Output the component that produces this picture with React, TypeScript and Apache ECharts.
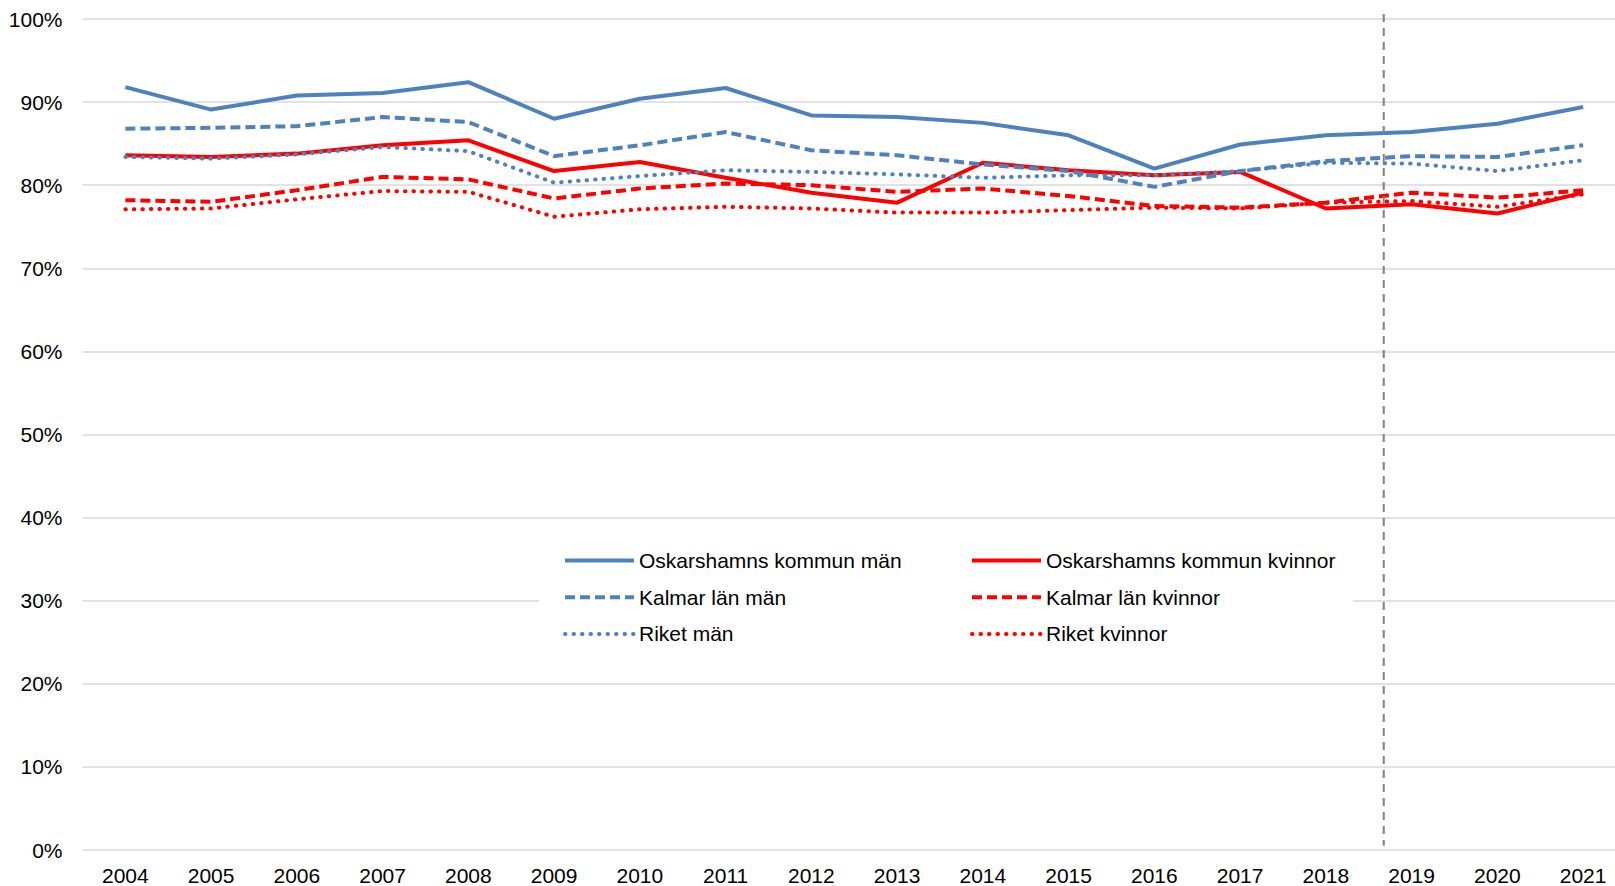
import React, { useEffect, useRef } from "react";
import * as echarts from "echarts";

const years = ["2004","2005","2006","2007","2008","2009","2010","2011","2012","2013","2014","2015","2016","2017","2018","2019","2020","2021"];
const oskMan = [91.8, 89.1, 90.8, 91.1, 92.4, 88.0, 90.4, 91.7, 88.4, 88.2, 87.5, 86.0, 82.0, 84.9, 86.0, 86.4, 87.4, 89.4];
const oskKv = [83.6, 83.4, 83.8, 84.8, 85.4, 81.7, 82.8, 80.9, 79.1, 77.9, 82.7, 81.8, 81.2, 81.6, 77.2, 77.7, 76.6, 79.1];
const kalMan = [86.8, 86.9, 87.1, 88.2, 87.6, 83.5, 84.8, 86.4, 84.2, 83.6, 82.5, 81.7, 79.8, 81.7, 82.9, 83.5, 83.4, 84.8];
const kalKv = [78.2, 78.0, 79.4, 81.0, 80.7, 78.4, 79.6, 80.2, 80.0, 79.2, 79.6, 78.7, 77.5, 77.3, 77.9, 79.1, 78.5, 79.4];
const riketMan = [83.4, 83.2, 83.7, 84.6, 84.1, 80.3, 81.1, 81.8, 81.6, 81.3, 80.9, 81.2, 81.2, 81.7, 82.7, 82.6, 81.7, 83.0];
const riketKv = [77.1, 77.2, 78.3, 79.3, 79.2, 76.2, 77.1, 77.4, 77.2, 76.7, 76.7, 77.0, 77.3, 77.2, 77.9, 78.1, 77.4, 78.9];
const yTicks = { min: 0, max: 100, interval: 10 };
// vertical dashed reference line, between 2018 and 2019 (category index scale)
const breakLine = [[14.675, 100.6], [14.675, 0.5]];

const names = {
  oskMan: "Oskarshamns kommun män",
  oskKv: "Oskarshamns kommun kvinnor",
  kalMan: "Kalmar län män",
  kalKv: "Kalmar län kvinnor",
  riketMan: "Riket män",
  riketKv: "Riket kvinnor",
};

const BLUE = "#4F81BD";
const RED = "#FF0000";
const FONT = "'Liberation Sans', Arial, sans-serif";
const LW = 4;
const DASH = [10, 5];
const DOT = [0.5, 8];

function lineSeries(name: string, data: number[], color: string, kind: "solid" | "dashed" | "dotted") {
  return {
    name,
    type: "line",
    data,
    symbol: "none",
    z: 2,
    lineStyle: {
      color,
      width: LW,
      type: kind === "solid" ? "solid" : kind === "dashed" ? DASH : DOT,
      cap: kind === "dotted" ? "round" : "butt",
    },
    itemStyle: { color },
  };
}

export default function App() {
  const ref = useRef<HTMLDivElement>(null);
  useEffect(() => {
    if (!ref.current) return;
    document.documentElement.style.overflow = "hidden";
    const chart = echarts.init(ref.current, undefined, { renderer: "svg" });
    const legendCommon = {
      orient: "vertical",
      top: 550,
      padding: 0,
      itemWidth: 69,
      itemHeight: 21,
      itemGap: 15.7,
      selectedMode: false,
      itemStyle: { opacity: 0 },
      lineStyle: { width: LW },
      textStyle: { fontSize: 21, color: "#000", fontFamily: FONT, lineHeight: 21 },
    };
    chart.setOption({
      animation: false,
      backgroundColor: "#fff",
      textStyle: { fontFamily: FONT },
      grid: { left: 82.5, right: 0, top: 19, bottom: 34.3, containLabel: false },
      legend: [
        { ...legendCommon, left: 563, data: [names.oskMan, names.kalMan, names.riketMan] },
        { ...legendCommon, left: 970, data: [names.oskKv, names.kalKv, names.riketKv] },
      ],
      graphic: [
        { type: "rect", z: 1, shape: { x: 539, y: 540, width: 814, height: 115 }, style: { fill: "#fff" } },
      ],
      xAxis: [
        {
          type: "category",
          data: years,
          boundaryGap: true,
          axisLine: { show: false },
          axisTick: { show: false },
          axisLabel: { fontSize: 21, color: "#000", margin: 15, fontFamily: FONT },
        },
        { type: "value", min: -0.5, max: 17.5, show: false },
      ],
      yAxis: {
        type: "value",
        min: yTicks.min,
        max: yTicks.max,
        interval: yTicks.interval,
        axisLine: { show: false },
        axisTick: { show: false },
        axisLabel: { fontSize: 21, color: "#000", margin: 20, formatter: "{value}%", fontFamily: FONT },
        splitLine: { lineStyle: { color: "#d9d9d9", width: 1.5 } },
      },
      series: [
        lineSeries(names.oskMan, oskMan, BLUE, "solid"),
        lineSeries(names.oskKv, oskKv, RED, "solid"),
        lineSeries(names.kalMan, kalMan, BLUE, "dashed"),
        lineSeries(names.kalKv, kalKv, RED, "dashed"),
        lineSeries(names.riketMan, riketMan, BLUE, "dotted"),
        lineSeries(names.riketKv, riketKv, RED, "dotted"),
        {
          name: "break",
          type: "line",
          xAxisIndex: 1,
          data: breakLine,
          symbol: "none",
          clip: false,
          silent: true,
          z: 3,
          lineStyle: { color: "#808080", width: 2, type: [8, 6] },
        },
      ],
    });
    return () => chart.dispose();
  }, []);
  return <div ref={ref} style={{ position: "fixed", left: 0, top: 0, width: 1626, height: 886 }} />;
}
